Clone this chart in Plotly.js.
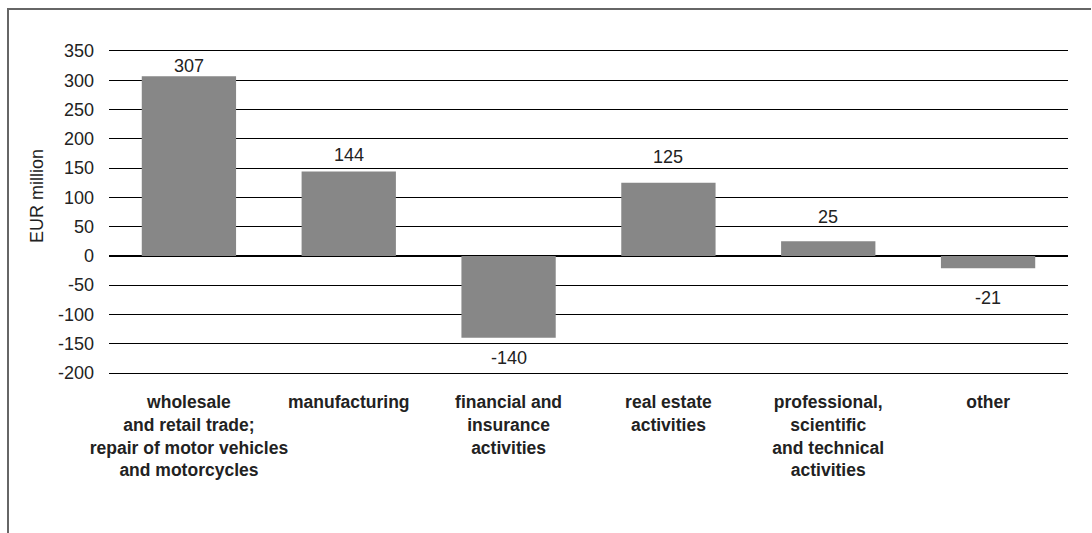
<!DOCTYPE html>
<html><head><meta charset="utf-8">
<script src="https://cdn.plot.ly/plotly-3.0.1.min.js"></script>
<style>body{margin:0;background:#fff}#wrap{position:relative;width:1092px;height:533px}#frame{position:absolute;left:7px;top:8px;width:1082px;height:530px;border-top:2px solid #666;border-left:2px solid #666;pointer-events:none}</style>
</head><body><div id="wrap"><div id="chart" style="width:1092px;height:533px"></div><div id="frame"></div></div>
<script>
const categories = ["<b>wholesale</b><br><b>and retail trade;</b><br><b>repair of motor vehicles</b><br><b>and motorcycles</b>","<b>manufacturing</b>","<b>financial and</b><br><b>insurance</b><br><b>activities</b>","<b>real estate</b><br><b>activities</b>","<b>professional,</b><br><b>scientific</b><br><b>and technical</b><br><b>activities</b>","<b>other</b>"];
const values = [307, 144, -140, 125, 25, -21];
const yTicks = [-200,-150,-100,-50,0,50,100,150,200,250,300,350];
const yTitle = 'EUR million';
// label gap (px) from bar end, as placed in the original
const labelGap = [10, 17, 20, 26, 24, 30];

const labelAnns = values.map((v, i) => ({
  x: categories[i], y: v, xref:'x', yref:'y', text: String(v), showarrow:false,
  xanchor:'center', yanchor:'middle', yshift: (v >= 0 ? 1 : -1) * labelGap[i],
  font:{size:18, color:'#222'}
}));

Plotly.newPlot('chart', [{
  type:'bar', x:categories, y:values,
  marker:{color:'#878787'}, width:0.59,
  hoverinfo:'none'
}], {
  width:1092, height:533,
  margin:{l:109, r:24, t:51, b:160},
  paper_bgcolor:'#fff', plot_bgcolor:'#fff',
  font:{family:'Liberation Sans, Arial, sans-serif', size:18, color:'#222'},
  showlegend:false, bargap:0.41,
  xaxis:{showgrid:false, showline:true, mirror:true, linecolor:'#000', linewidth:1, zeroline:false, ticks:'', ticklabelstandoff:13,
    tickangle:0, tickfont:{size:17.5, color:'#222'}, fixedrange:true},
  yaxis:{range:[-200,350], tickvals:yTicks, ticktext:yTicks.map(String),
    showgrid:true, gridcolor:'#000', gridwidth:1,
    zeroline:true, zerolinecolor:'#000', zerolinewidth:2.5,
    showline:false, ticks:'', ticklabelstandoff:14,
    tickfont:{size:18, color:'#222'}, fixedrange:true},
  annotations:[{text:yTitle, xref:'paper', yref:'paper', x:-0.075, y:0.55, textangle:-90,
    showarrow:false, xanchor:'center', yanchor:'middle', font:{size:18, color:'#222'}}].concat(labelAnns)
}, {displayModeBar:false, staticPlot:true});
</script></body></html>
